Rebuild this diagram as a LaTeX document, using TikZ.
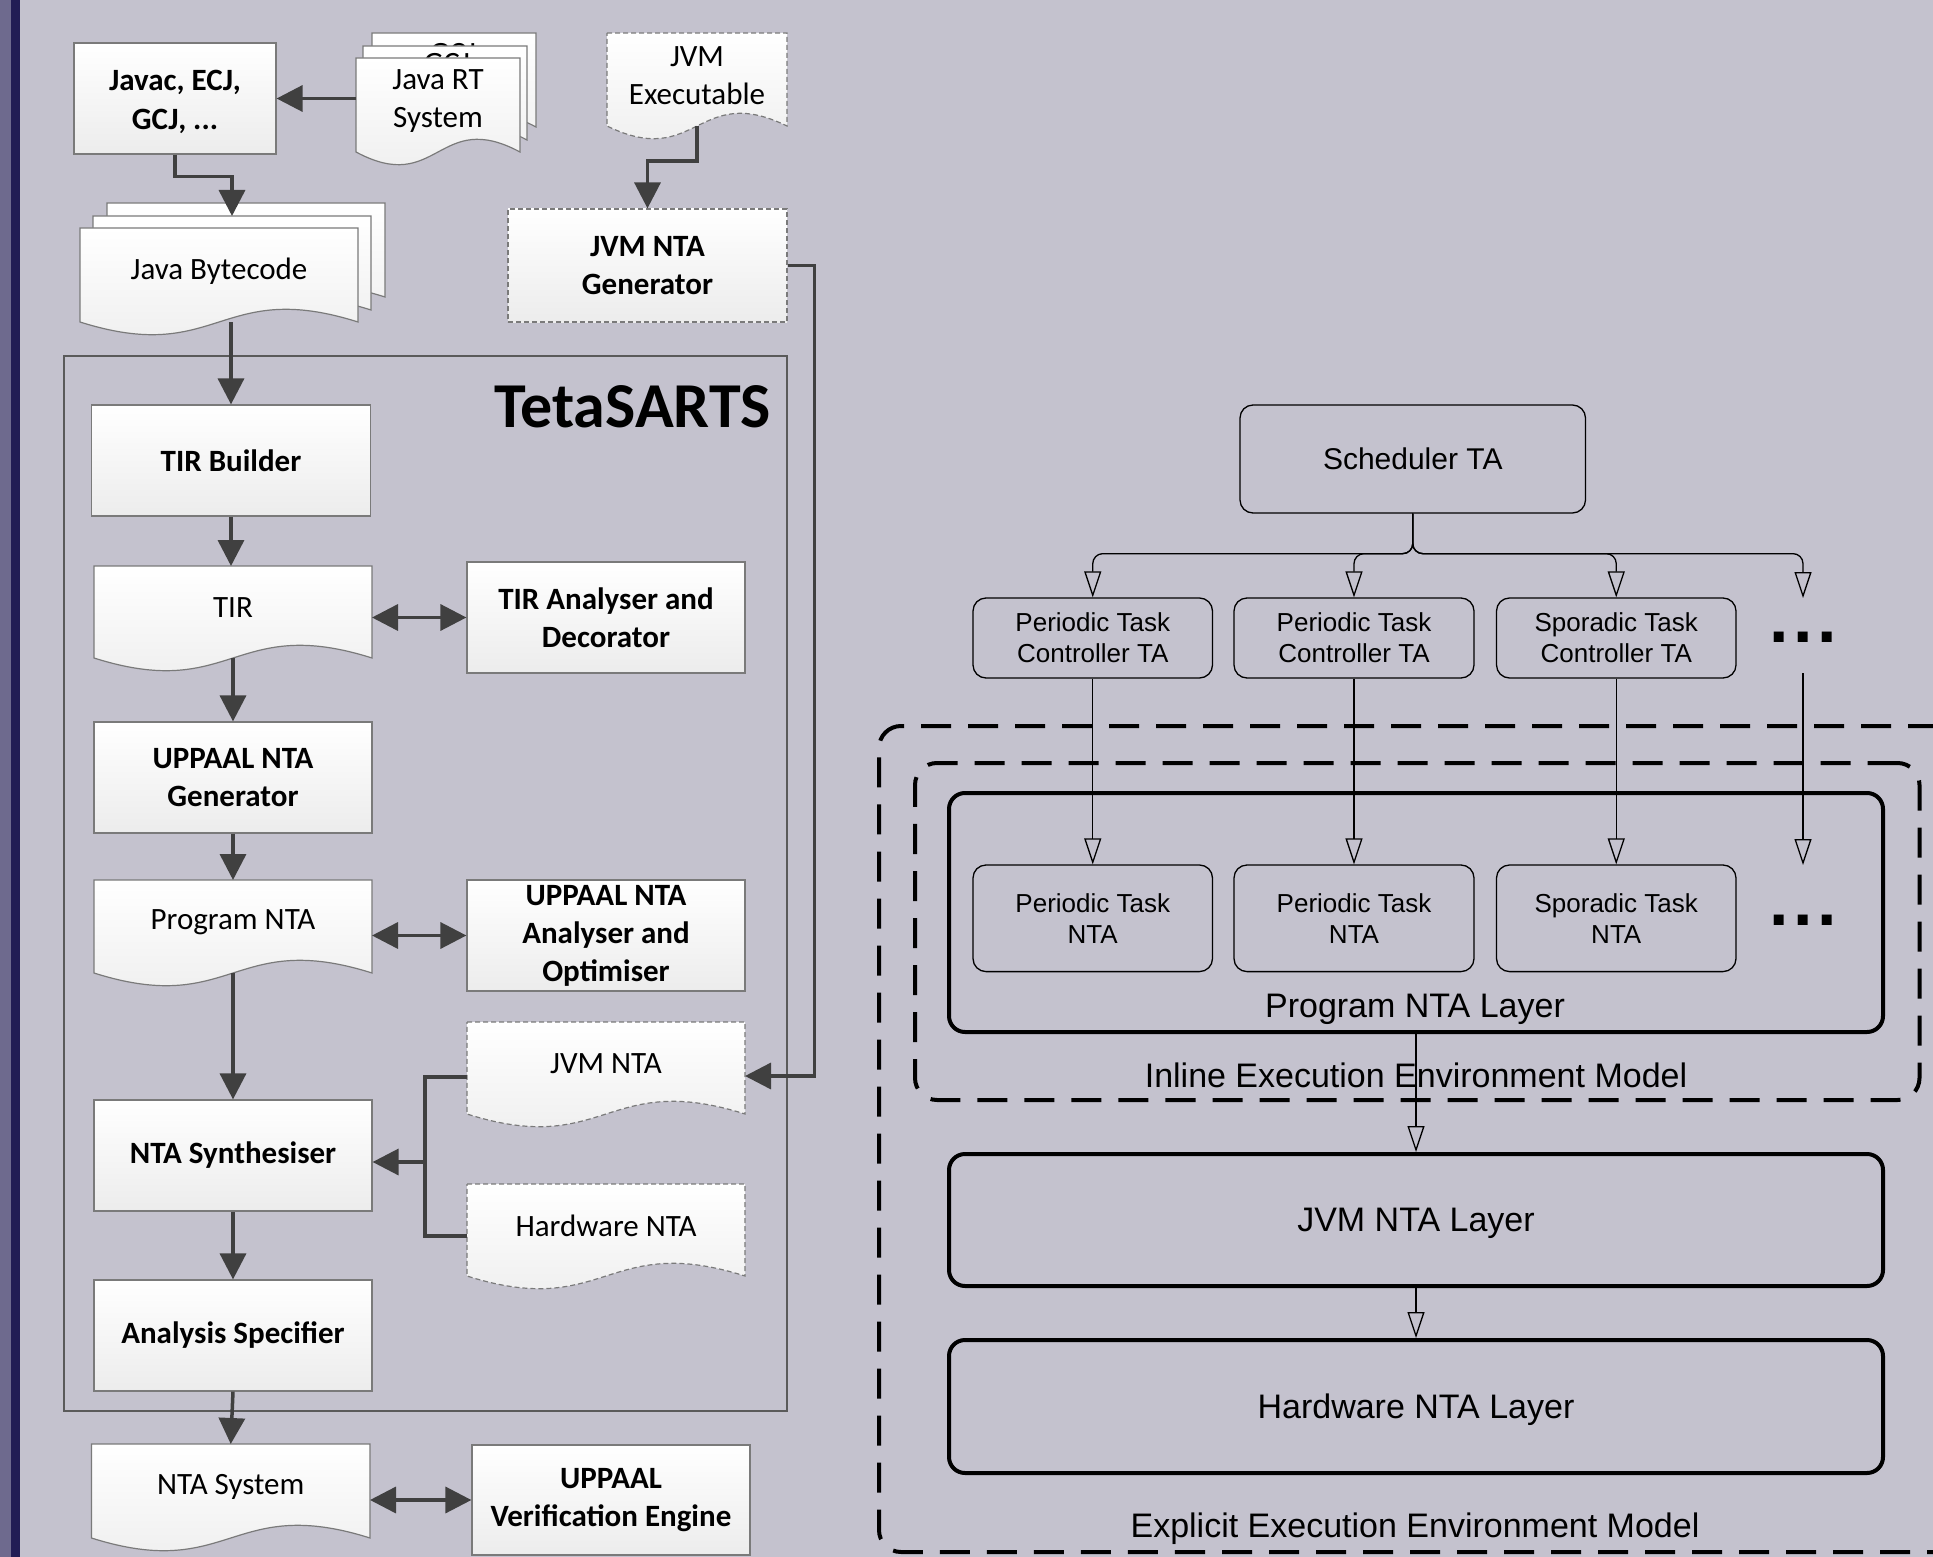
\documentclass[tikz,border=0pt]{standalone}
\usepackage{fontspec}
\setmainfont{Carlito}
\newfontfamily\arialf{Liberation Sans}
\usetikzlibrary{arrows.meta,calc}
\definecolor{bgc}{HTML}{C4C2CE}
\definecolor{barl}{HTML}{6E6A8E}
\definecolor{bard}{HTML}{221D55}
\definecolor{arr}{HTML}{404040}
\definecolor{bord}{HTML}{7A7A7A}
\definecolor{boxbot}{HTML}{ECECEC}
\definecolor{framec}{HTML}{5A5A5A}
\newcommand\docpath[5]{\path[docshape,#1] (#2,#3) -- ({#2+#4},#3) -- ({#2+#4},{#3+#5}) .. controls ({#2+#4/2},{#3+#5-44}) and ({#2+#4/2},{#3+#5+44}) .. (#2,{#3+#5}) -- cycle;}
\newcommand\docnode[7]{%
  \docpath{#2}{#3}{#4}{#5}{#6}
  \node[anchor=north west, minimum width=#5, minimum height=#6, inner sep=0pt, outer sep=0pt] (#1) at (#3,#4) {};
  \node[doctext] (#1-t) at ($(#1.center)+(0,-4)$) {#7};}
\begin{document}
\begin{tikzpicture}[x=1pt,y=-1pt,
  proc/.style={draw=bord, line width=1.2pt, top color=white, bottom color=boxbot, font=\bfseries\fontsize{31}{38}\selectfont, align=center, inner sep=0pt},
  docshape/.style={draw=bord, line width=1.2pt, top color=white, bottom color=boxbot},
  dsh/.style={dash pattern=on 5pt off 3pt},
  doctext/.style={font=\fontsize{31}{38}\selectfont, align=center, inner sep=0pt},
  flow/.style={draw=arr, line width=3.5pt, -{Triangle[length=26pt,width=26pt]}},
  biflow/.style={draw=arr, line width=3.5pt, {Triangle[length=26pt,width=26pt]}-{Triangle[length=26pt,width=26pt]}},
  fline/.style={draw=arr, line width=3.5pt},
  rbox/.style={draw=black, line width=1.3pt, rounded corners=13pt, align=center, inner sep=0pt, font=\arialf\fontsize{26}{31}\selectfont},
  layer/.style={draw=black, line width=4pt, rounded corners=16pt},
  envbox/.style={draw=black, line width=4pt, rounded corners=22pt, dash pattern=on 30pt off 17pt},
  lbl/.style={font=\arialf\fontsize{34}{40}\selectfont, inner sep=0pt},
  dots/.style={font=\arialf\bfseries\fontsize{70}{70}\selectfont, inner sep=0pt},
  tarrow/.style={draw=black, line width=1.3pt, -{Triangle[open,length=26pt,width=17pt]}}
]
\useasboundingbox (0,0) rectangle (1933,1557);
\clip (0,0) rectangle (1933,1557);
\fill[bgc] (0,0) rectangle (1933,1557);
\fill[barl] (0,0) rectangle (11,1557);
\fill[bard] (11,0) rectangle (20,1557);

% ---------------- left: tool chain ----------------
\node[proc, minimum width=202, minimum height=111] (javac) at (175,98.5) {};
\node[font=\bfseries\fontsize{31}{39}\selectfont, align=center, inner sep=0pt] (javac-t) at ($(javac.center)+(0,3)$) {Javac, ECJ,\\GCJ, ...};

\docpath{}{372}{33}{164}{94}
\node[doctext, anchor=north] (gcj2) at (453,43) {GCJ};
\docpath{}{363}{46}{164}{94}
\node[doctext, anchor=north] (gcj1) at (447,53) {GCJ};
\docnode{jrt}{}{356}{58}{164}{94}{Java RT\\System}

\docnode{jvmexec}{dsh}{607}{33}{180}{93}{JVM\\Executable}
\node[proc, dsh, minimum width=279, minimum height=113] (gen) at (647.5,265.5) {JVM NTA\\Generator};

\docnode{bc2}{}{107}{203}{278}{94}{}
\docnode{bc1}{}{93}{216}{278}{94}{}
\docnode{bc}{}{80}{228}{278}{94}{Java Bytecode}

\node[draw=framec, line width=2pt, minimum width=723, minimum height=1055, inner sep=0pt] (teta) at (425.5,883.5) {};
\node[font=\bfseries\fontsize{64}{70}\selectfont, anchor=east, inner sep=0pt] (tetat) at (771,407) {TetaSARTS};

\node[proc, minimum width=279, minimum height=111] (tirb) at (231,460.5) {TIR Builder};
\docnode{tir}{}{94}{566}{278}{92}{TIR}
\node[proc, minimum width=278, minimum height=111] (tiran) at (606,617.5) {TIR Analyser and\\Decorator};
\node[proc, minimum width=278, minimum height=111] (ugen) at (233,777.5) {UPPAAL NTA\\Generator};
\docnode{prog}{}{94}{880}{278}{93}{Program NTA}
\node[proc, minimum width=278, minimum height=111] (progan) at (606,935.5) {UPPAAL NTA\\Analyser and\\Optimiser};
\docnode{jvmnta}{dsh}{467}{1022}{278}{92}{JVM NTA}
\node[proc, minimum width=278, minimum height=111] (synth) at (233,1155.5) {NTA Synthesiser};
\docnode{hwnta}{dsh}{467}{1184}{278}{92}{Hardware NTA}
\node[proc, minimum width=278, minimum height=111] (aspec) at (233,1335.5) {Analysis Specifier};
\docnode{ntas}{}{91.5}{1444}{278.5}{94}{NTA System}
\node[proc, minimum width=278, minimum height=110] (uve) at (611,1500) {UPPAAL\\Verification Engine};

% connectors
\draw[flow] (jrt.west |- javac.east) -- (javac.east);
\draw[flow] (javac.south) -- ++(0,22) -| (bc1.north);
\draw[flow] (jvmexec.south) -- ++(0,35) -| (gen.north);
\draw[flow] (gen.east) -- ++(27,0) |- ($(jvmnta.east)+(0,8)$);
\draw[flow] (tirb.north |- bc.south) -- (tirb.north);
\draw[flow] (tirb.south) -- (tirb.south |- tir.north);
\draw[biflow] (tir.east |- tiran.west) -- (tiran.west);
\draw[flow] (tir.south) -- (ugen.north);
\draw[flow] (ugen.south) -- (prog.north);
\draw[biflow] (prog.east |- progan.west) -- (progan.west);
\draw[flow] (prog.south) -- (synth.north);
\coordinate (junc) at (425,1162);
\draw[fline] ($(jvmnta.west)+(0,9)$) -| (junc) |- ($(hwnta.west)+(0,6)$);
\draw[flow] (junc) -- (synth.east |- junc);
\draw[flow] (synth.south) -- (aspec.north);
\draw[flow] (aspec.south) -- (ntas.north);
\draw[biflow] (ntas.east |- uve.west) -- (uve.west);

% ---------------- right: model layers ----------------
\node[envbox, minimum width=1081, minimum height=826] (expl) at (1419.5,1139) {};
\node[envbox, minimum width=1004.5, minimum height=337] (inl) at (1417.25,931.5) {};
\node[layer, minimum width=934, minimum height=239] (pl) at (1416,912.5) {};
\node[layer, minimum width=934, minimum height=132] (jl) at (1416,1220) {};
\node[layer, minimum width=934, minimum height=133] (hl) at (1416,1406.5) {};
\node[lbl] (plt) at (1415,1009) {Program NTA Layer};
\node[lbl] (inlt) at (1416,1075) {Inline Execution Environment Model};
\node[lbl] (jlt) at (1416,1223) {JVM NTA Layer};
\node[lbl] (hlt) at (1416,1410) {Hardware NTA Layer};
\node[lbl] (explt) at (1415,1529) {Explicit Execution Environment Model};

\node[rbox, minimum width=345.5, minimum height=108, font=\arialf\fontsize{30}{36}\selectfont] (sched) at (1412.75,459) {Scheduler TA};
\node[rbox, minimum width=239.5, minimum height=80] (c1) at (1092.75,638) {Periodic Task\\Controller TA};
\node[rbox, minimum width=240, minimum height=80] (c2) at (1354,638) {Periodic Task\\Controller TA};
\node[rbox, minimum width=239.5, minimum height=80] (c3) at (1616.25,638) {Sporadic Task\\Controller TA};
\node[dots] (dt1) at (1803,637) {.\kern4.5pt.\kern4.5pt.};
\node[rbox, minimum width=239.5, minimum height=106.6] (t1) at (1092.75,918.3) {Periodic Task\\NTA};
\node[rbox, minimum width=240, minimum height=106.6] (t2) at (1354,918.3) {Periodic Task\\NTA};
\node[rbox, minimum width=239.5, minimum height=106.6] (t3) at (1616.25,918.3) {Sporadic Task\\NTA};
\node[dots] (dt2) at (1803,920) {.\kern4.5pt.\kern4.5pt.};

\coordinate (d0) at (1803,598);
\coordinate (d1) at (1803,673);
\coordinate (d2) at (1803,865);
\draw[tarrow, rounded corners=10pt] (sched.south) -- ++(0,40) -| (c1.north);
\draw[tarrow, rounded corners=10pt] (sched.south) -- ++(0,40) -| (c2.north);
\draw[tarrow, rounded corners=10pt] (sched.south) -- ++(0,40) -| (c3.north);
\draw[tarrow, rounded corners=10pt] (sched.south) -- ++(0,40) -| (d0);
\draw[tarrow] (c1.south) -- (t1.north);
\draw[tarrow] (c2.south) -- (t2.north);
\draw[tarrow] (c3.south) -- (t3.north);
\draw[tarrow] (d1) -- (d2);
\draw[tarrow] (pl.south) -- (jl.north);
\draw[tarrow] (jl.south) -- (hl.north);
\end{tikzpicture}
\end{document}
